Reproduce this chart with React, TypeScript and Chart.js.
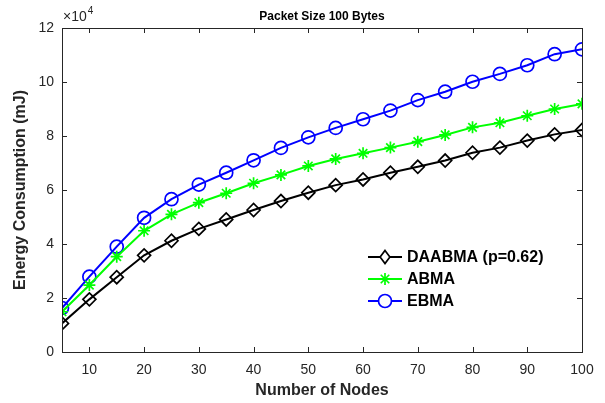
import React, { useEffect, useRef } from "react";
import { Chart, registerables } from "chart.js";

Chart.register(...registerables);

const nodes = [5, 10, 15, 20, 25, 30, 35, 40, 45, 50, 55, 60, 65, 70, 75, 80, 85, 90, 95, 100];
const daabma = [1.06, 1.95, 2.77, 3.58, 4.12, 4.56, 4.91, 5.26, 5.59, 5.9, 6.18, 6.39, 6.64, 6.86, 7.09, 7.38, 7.57, 7.83, 8.06, 8.22];
const abma = [1.49, 2.48, 3.53, 4.49, 5.1, 5.53, 5.88, 6.25, 6.56, 6.89, 7.15, 7.36, 7.57, 7.79, 8.04, 8.32, 8.49, 8.75, 9.0, 9.19];
const ebma = [1.63, 2.79, 3.9, 4.97, 5.66, 6.2, 6.64, 7.1, 7.56, 7.95, 8.3, 8.62, 8.94, 9.33, 9.64, 10.01, 10.3, 10.62, 11.03, 11.21];
const xTicks = [10, 20, 30, 40, 50, 60, 70, 80, 90, 100];
const yTicks = [0, 2, 4, 6, 8, 10, 12];
const seriesNames = ["DAABMA (p=0.62)", "ABMA", "EBMA"];
const titleText = "Packet Size 100 Bytes";
const xTitle = "Number of Nodes";
const yTitle = "Energy Consumption (mJ)";

const FONT = "'Liberation Sans', Arial, Helvetica, sans-serif";
const AXIS = "#262626";

function drawMarker(ctx: any, style: string, x: number, y: number, r: number, color: string, bw: number) {
  ctx.save();
  ctx.strokeStyle = color;
  ctx.lineWidth = bw;
  ctx.beginPath();
  if (style === "circle") {
    ctx.arc(x, y, r, 0, Math.PI * 2);
    ctx.fillStyle = "#fff";
    ctx.fill();
  } else if (style === "rectRot") {
    ctx.moveTo(x, y - r);
    ctx.lineTo(x + r * 0.75, y);
    ctx.lineTo(x, y + r);
    ctx.lineTo(x - r * 0.75, y);
    ctx.closePath();
    ctx.fillStyle = "#fff";
    ctx.fill();
  } else {
    for (let k = 0; k < 4; k++) {
      const ang = (k * Math.PI) / 4;
      ctx.moveTo(x - Math.cos(ang) * r, y - Math.sin(ang) * r);
      ctx.lineTo(x + Math.cos(ang) * r, y + Math.sin(ang) * r);
    }
  }
  ctx.stroke();
  ctx.restore();
}

const decorPlugin = {
  id: "decor",
  afterDraw(chart: any) {
    const ctx = chart.ctx;
    const a = chart.chartArea;
    const xs = chart.scales.x;
    const ys = chart.scales.y;
    ctx.save();
    ctx.strokeStyle = AXIS;
    ctx.lineWidth = 1;
    ctx.strokeRect(Math.round(a.left) + 0.5, Math.round(a.top) + 0.5, Math.round(a.right - a.left), Math.round(a.bottom - a.top));
    const tl = 5;
    ctx.beginPath();
    xTicks.forEach((v) => {
      const px = Math.round(xs.getPixelForValue(v)) + 0.5;
      ctx.moveTo(px, a.bottom);
      ctx.lineTo(px, a.bottom - tl);
      ctx.moveTo(px, a.top);
      ctx.lineTo(px, a.top + tl);
    });
    yTicks.forEach((v) => {
      const py = Math.round(ys.getPixelForValue(v)) + 0.5;
      ctx.moveTo(a.left, py);
      ctx.lineTo(a.left + tl, py);
      ctx.moveTo(a.right, py);
      ctx.lineTo(a.right - tl, py);
    });
    ctx.stroke();

    const cx = (a.left + a.right) / 2;
    ctx.fillStyle = "#000";
    ctx.textAlign = "center";
    ctx.textBaseline = "middle";
    ctx.font = `bold 12px ${FONT}`;
    ctx.fillText(titleText, cx, 17);

    ctx.fillStyle = AXIS;
    ctx.textAlign = "left";
    ctx.textBaseline = "alphabetic";
    ctx.font = `14px ${FONT}`;
    ctx.fillText("\u00d710", a.left + 1, 21);
    const w = ctx.measureText("\u00d710").width;
    ctx.font = `10px ${FONT}`;
    ctx.fillText("4", a.left + 1 + w + 1, 14);

    ctx.fillStyle = AXIS;
    ctx.font = `bold 16px ${FONT}`;
    ctx.textAlign = "center";
    ctx.textBaseline = "middle";
    ctx.fillText(xTitle, cx, 391);
    ctx.save();
    ctx.translate(21, (a.top + a.bottom) / 2);
    ctx.rotate(-Math.PI / 2);
    ctx.fillText(yTitle, 0, 0);
    ctx.restore();

    const lx0 = 368;
    const lx1 = 402;
    const rows = [257, 279, 301];
    chart.data.datasets.forEach((ds: any, i: number) => {
      const y = rows[i];
      ctx.strokeStyle = ds.borderColor;
      ctx.lineWidth = ds.borderWidth;
      ctx.beginPath();
      ctx.moveTo(lx0, y);
      ctx.lineTo(lx1, y);
      ctx.stroke();
      drawMarker(ctx, ds.pointStyle, (lx0 + lx1) / 2, y, ds.pointRadius, ds.borderColor, ds.pointBorderWidth);
      ctx.fillStyle = "#000";
      ctx.textAlign = "left";
      ctx.textBaseline = "middle";
      ctx.font = `bold 16px ${FONT}`;
      ctx.fillText(seriesNames[i], 407, y + 1);
    });
    ctx.restore();
  },
};

export default function App() {
  const ref = useRef<HTMLCanvasElement | null>(null);
  useEffect(() => {
    if (!ref.current) return;
    const mk = (data: number[]) => nodes.map((x, i) => ({ x, y: data[i] }));
    const base = {
      backgroundColor: "rgba(0,0,0,0)",
      borderWidth: 2,
      pointBorderWidth: 1.7,
      pointBackgroundColor: "rgba(0,0,0,0)",
    };
    const chart = new Chart(ref.current, {
      type: "line",
      data: {
        datasets: [
          { ...base, label: seriesNames[0], data: mk(daabma), borderColor: "#000000", pointStyle: "rectRot", pointRadius: 6.5, pointBorderColor: "#000000" } as any,
          { ...base, label: seriesNames[1], data: mk(abma), borderColor: "#00ff00", pointStyle: "star", pointRadius: 6, pointBorderColor: "#00ff00" } as any,
          { ...base, label: seriesNames[2], data: mk(ebma), borderColor: "#0000ff", pointStyle: "circle", pointRadius: 6.5, pointBorderColor: "#0000ff" } as any,
        ],
      },
      options: {
        animation: false,
        responsive: false,
        maintainAspectRatio: false,
        layout: { padding: { left: 0, right: 23, top: 28, bottom: 0 } },
        plugins: {
          legend: { display: false },
          title: { display: false },
          tooltip: { enabled: false },
        },
        scales: {
          x: {
            type: "linear",
            min: 5,
            max: 100,
            grid: { display: false, drawTicks: false },
            border: { display: false },
            afterBuildTicks: (s: any) => {
              s.ticks = xTicks.map((v) => ({ value: v }));
            },
            afterFit: (s: any) => {
              s.height = 51;
            },
            ticks: { padding: 10, color: AXIS, font: { family: FONT, size: 14 }, maxRotation: 0, autoSkip: false },
          },
          y: {
            type: "linear",
            min: 0,
            max: 12,
            grid: { display: false, drawTicks: false },
            border: { display: false },
            afterBuildTicks: (s: any) => {
              s.ticks = yTicks.map((v) => ({ value: v }));
            },
            afterFit: (s: any) => {
              s.width = 62;
            },
            ticks: { padding: 8, color: AXIS, font: { family: FONT, size: 14 } },
          },
        },
      } as any,
      plugins: [decorPlugin],
    });
    return () => chart.destroy();
  }, []);
  return (
    <div style={{ position: "fixed", left: 0, top: 0, width: 605, height: 403, background: "#fff" }}>
      <canvas ref={ref} width={605} height={403} style={{ width: 605, height: 403 }} />
    </div>
  );
}
